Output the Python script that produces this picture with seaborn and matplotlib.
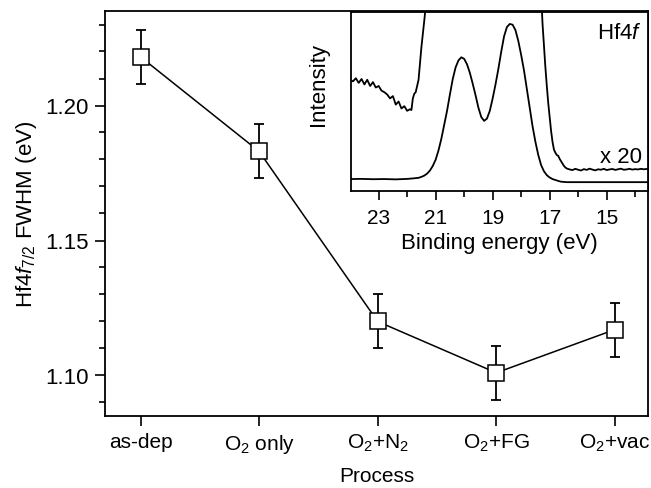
import pandas as pd
import seaborn as sns
import matplotlib.pyplot as plt
from matplotlib.ticker import MultipleLocator

# main panel: FWHM vs process
process = ['as-dep', r'O$_2$ only', r'O$_2$+N$_2$', r'O$_2$+FG', r'O$_2$+vac']
fwhm = [1.218, 1.183, 1.120, 1.101, 1.117]
fwhm_err = [0.010, 0.010, 0.010, 0.010, 0.010]

# inset: Hf4f spectrum (binding energy, normalised intensity)
be = [24.0, 23.6, 23.2, 22.8, 22.4, 22.0, 21.8, 21.6, 21.5, 21.4, 21.3, 21.2, 21.1, 21.0,
      20.9, 20.8, 20.7, 20.6, 20.5, 20.4, 20.3, 20.2, 20.1, 20.0, 19.9, 19.8, 19.7, 19.6,
      19.5, 19.4, 19.3, 19.2, 19.1, 19.0, 18.9, 18.8, 18.7, 18.6, 18.5, 18.4, 18.3, 18.2,
      18.1, 18.0, 17.9, 17.8, 17.7, 17.6, 17.5, 17.4, 17.3, 17.2, 17.1, 17.0, 16.9, 16.8,
      16.7, 16.6, 16.4, 16.0, 15.0, 14.0, 13.5]
intensity = [0.000, 0.001, -0.001, 0.000, -0.002, 0.001, 0.004, 0.008, 0.014, 0.022, 0.035,
             0.055, 0.085, 0.125, 0.185, 0.26, 0.35, 0.44, 0.545, 0.645, 0.72, 0.765, 0.785,
             0.775, 0.74, 0.685, 0.615, 0.54, 0.46, 0.40, 0.375, 0.39, 0.44, 0.52, 0.61, 0.71,
             0.82, 0.92, 0.98, 1.0, 0.995, 0.96, 0.89, 0.80, 0.70, 0.58, 0.46, 0.34, 0.24,
             0.155, 0.09, 0.05, 0.025, 0.01, 0.0, -0.006, -0.012, -0.017, -0.020, -0.020,
             -0.020, -0.020, -0.020]

# x20 magnified trace, high-BE side
be_x20_hi = [24.0, 23.9, 23.8, 23.7, 23.6, 23.5, 23.4, 23.3, 23.2, 23.1, 23.0, 22.9, 22.8,
             22.7, 22.6, 22.5, 22.4, 22.3, 22.2, 22.1, 22.0, 21.9, 21.85, 21.8, 21.75, 21.7,
             21.6, 21.5, 21.4, 21.3]
x20_hi = [0.64, 0.63, 0.65, 0.62, 0.645, 0.61, 0.64, 0.60, 0.625, 0.59, 0.60, 0.57, 0.56,
          0.545, 0.52, 0.535, 0.48, 0.50, 0.455, 0.47, 0.44, 0.45, 0.445, 0.52, 0.55, 0.56,
          0.64, 0.85, 1.02, 1.20]

# x20 magnified trace, low-BE side
be_x20_lo = [17.30, 17.25, 17.20, 17.15, 17.10, 17.05, 17.00, 16.95, 16.90, 16.85, 16.80,
             16.75, 16.70, 16.65, 16.60, 16.55, 16.50, 16.45, 16.40, 16.3, 16.2, 16.1, 16.0,
             15.9, 15.8, 15.7, 15.6, 15.5, 15.4, 15.3, 15.2, 15.1, 15.0, 14.9, 14.8, 14.7,
             14.6, 14.5, 14.4, 14.3, 14.2, 14.1, 14.0, 13.9, 13.8, 13.7, 13.6, 13.5]
x20_lo = [1.20, 1.00, 0.86, 0.72, 0.60, 0.49, 0.40, 0.31, 0.24, 0.19, 0.17, 0.155, 0.15,
          0.13, 0.115, 0.10, 0.085, 0.075, 0.068, 0.062, 0.058, 0.066, 0.060, 0.055, 0.064,
          0.059, 0.067, 0.061, 0.056, 0.063, 0.060, 0.066, 0.058, 0.062, 0.065, 0.059, 0.063,
          0.067, 0.060, 0.062, 0.066, 0.061, 0.064, 0.062, 0.066, 0.063, 0.065, 0.066]

sns.set_theme(style='ticks')
plt.rcParams['font.family'] = ['Liberation Sans', 'DejaVu Sans']
plt.rcParams['mathtext.fontset'] = 'custom'
plt.rcParams['mathtext.rm'] = 'Liberation Sans'
plt.rcParams['mathtext.it'] = 'Liberation Sans:italic'
fs = 16
plt.rcParams['font.size'] = fs
plt.rcParams['axes.labelsize'] = fs
plt.rcParams['xtick.labelsize'] = 15
plt.rcParams['ytick.labelsize'] = fs
for k in ['text.color', 'axes.labelcolor', 'xtick.color', 'ytick.color', 'axes.edgecolor']:
    plt.rcParams[k] = 'black'

fig = plt.figure(figsize=(6.51, 4.89), dpi=100)
W, H = 651, 489
ax = fig.add_axes([105 / W, 1 - 417 / H, (648 - 105) / W, (417 - 12) / H])

df = pd.DataFrame({'pos': range(len(process)), 'fwhm': fwhm, 'err': fwhm_err})
sns.lineplot(data=df, x='pos', y='fwhm', color='black', lw=1.1, ax=ax, zorder=1)
ax.errorbar(df['pos'], df['fwhm'], yerr=df['err'], fmt='none', ecolor='black',
            elinewidth=1.3, capsize=3.8, capthick=1.3, zorder=2)
ax.plot(df['pos'], df['fwhm'], ls='none', marker='s', ms=11.5, mfc='white',
        mec='black', mew=1.1, zorder=3)

ax.set_xlim(-0.30, 4.28)
ax.set_ylim(1.085, 1.235)
ax.set_xticks(range(len(process)))
ax.set_xticklabels(process)
ax.set_yticks([1.10, 1.15, 1.20])
ax.yaxis.set_minor_locator(MultipleLocator(0.01))
ax.tick_params(which='major', direction='out', length=7.5, width=1.2, pad=4)
ax.tick_params(which='minor', direction='out', length=4, width=1.2)
ax.set_xlabel('Process', labelpad=8, fontsize=15)
ax.set_ylabel(r'Hf$\mathit{4f}_{\mathit{7/2}}$ FWHM (eV)', labelpad=5)
for s in ax.spines.values():
    s.set_linewidth(1.3)

# inset
axin = fig.add_axes([351 / W, 1 - 192 / H, (648 - 351) / W, (192 - 13) / H])
axin.set_facecolor('white')
axin.plot(be, intensity, color='black', lw=1.3)
axin.plot(be_x20_hi, x20_hi, color='black', lw=1.3)
axin.plot(be_x20_lo, x20_lo, color='black', lw=1.3)
axin.set_xlim(23.97, 13.55)
axin.set_ylim(-0.077, 1.077)
axin.set_xticks([23, 21, 19, 17, 15])
axin.xaxis.set_minor_locator(MultipleLocator(1))
axin.set_yticks([])
axin.tick_params(which='major', direction='out', length=6.5, width=1.2, pad=6)
axin.tick_params(which='minor', direction='out', length=4, width=1.2)
axin.set_xlabel('Binding energy (eV)', labelpad=3)
axin.set_ylabel('Intensity')
axin.yaxis.set_label_coords(-0.074, 0.60)
for s in axin.spines.values():
    s.set_linewidth(1.3)
axin.text(0.98, 0.883, r'Hf$\mathit{4f}$', transform=axin.transAxes, ha='right', va='center')
axin.text(0.98, 0.193, 'x 20', transform=axin.transAxes, ha='right', va='center')

fig.savefig('out.png', dpi=100)
